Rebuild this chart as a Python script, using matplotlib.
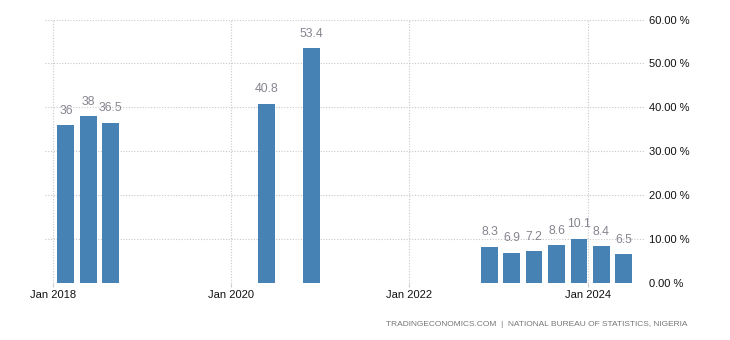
import matplotlib
matplotlib.use("Agg")
import matplotlib.pyplot as plt
import pandas as pd

# Data (quarter-end dates)
quarters = ["2018-03-31", "2018-06-30", "2018-09-30",
            "2020-06-30", "2020-12-31",
            "2022-12-31", "2023-03-31", "2023-06-30", "2023-09-30",
            "2023-12-31", "2024-03-31", "2024-06-30"]
values = [36, 38, 36.5, 40.8, 53.4, 8.3, 6.9, 7.2, 8.6, 10.1, 8.4, 6.5]
value_labels = ["36", "38", "36.5", "40.8", "53.4", "8.3", "6.9", "7.2", "8.6", "10.1", "8.4", "6.5"]
yticks = [0, 10, 20, 30, 40, 50, 60]
xtick_dates = ["2018-01-01", "2020-01-01", "2022-01-01", "2024-01-01"]
xtick_labels = ["Jan 2018", "Jan 2020", "Jan 2022", "Jan 2024"]
source = "TRADINGECONOMICS.COM  |  NATIONAL BUREAU OF STATISTICS, NIGERIA"

plt.rcParams['font.family'] = ['Liberation Sans', 'DejaVu Sans']

fig = plt.figure(figsize=(7.3, 3.4), dpi=100)
ax = fig.add_axes([45/730, 1-283/340, 600/730, (283-19.5)/340])

dates = pd.to_datetime(quarters)
bars = ax.bar(dates, values, width=-69, align='edge', color='#4682B4', zorder=3)

for b, lab in zip(bars, value_labels):
    x = b.get_x() + b.get_width() / 2
    ax.annotate(lab, (x, b.get_height()), xytext=(0, 6), textcoords='offset points',
                ha='center', va='bottom', fontsize=8.8, color='#858590', zorder=4)

ax.set_xlim(pd.Timestamp("2017-12-01"), pd.Timestamp("2024-08-23"))
ax.set_ylim(0, 60)

ax.set_yticks(yticks)
ax.set_yticklabels([f"{v:.2f} %" for v in yticks])
ax.yaxis.tick_right()
ax.tick_params(axis='y', length=0, pad=3, labelsize=8, labelcolor='#111111')

xt = pd.to_datetime(xtick_dates)
ax.set_xticks(xt)
ax.set_xticklabels(xtick_labels)
ax.tick_params(axis='x', length=3, color='#cccccc', pad=2, labelsize=8, labelcolor='#111111')

ax.grid(True, which='major', axis='both', linestyle=(0, (1, 1.5)), color='#c8c8c8', linewidth=0.8, zorder=0)
for s in ax.spines.values():
    s.set_visible(False)

fig.text(687/730, 1-325/340, source, ha='right', va='center', fontsize=6, color='#777777')

fig.savefig("out.png", dpi=100)
